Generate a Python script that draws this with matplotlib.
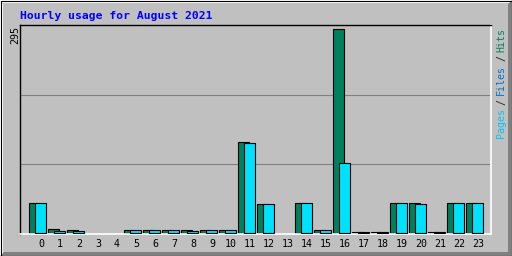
import matplotlib
matplotlib.use("Agg")
import matplotlib.pyplot as plt
from matplotlib.patches import Rectangle, Polygon
import numpy as np

hours = list(range(24))
hour_labels = [str(h) for h in hours]
hits = [43, 5, 3, 0, 0, 3, 3, 3, 3, 3, 3, 131, 41, 0, 43, 3, 295, 1, 1, 43, 43, 1, 43, 43]
pages = [43, 2, 2, 0, 0, 3, 3, 3, 2, 3, 3, 130, 41, 0, 43, 3, 101, 1, 1, 43, 41, 1, 43, 43]
title = "Hourly usage for August 2021"
ymax_label = "295"

W, H = 512, 256
BG = "#c0c0c0"
HIT_C = "#00805c"
PAGE_C = "#00e0ff"
FILE_C = "#0070d0"

fig = plt.figure(figsize=(W / 100, H / 100), dpi=100, facecolor=BG)
bg = fig.add_axes([0, 0, 1, 1])
bg.set_xlim(0, W)
bg.set_ylim(H, 0)
bg.axis("off")
bg.set_zorder(0)

# outer bevel
bg.add_patch(Polygon([[0, H], [W, H], [W, 0], [W - 4, 4], [W - 4, H - 4], [4, H - 4]],
                     closed=True, facecolor="#808080", edgecolor="none"))
bg.add_patch(Polygon([[0, 0], [W, 0], [W - 3, 3], [3, 3], [3, H - 3], [0, H]],
                     closed=True, facecolor="white", edgecolor="none"))
bg.add_patch(Rectangle((0.5, 0.5), W - 1, H - 1, fill=False, edgecolor="black", lw=0.8))

mono = "DejaVu Sans Mono"
bg.text(20, 19, title, color="#0000ff", fontsize=8.2, fontweight="bold",
        family=mono, ha="left", va="baseline")
bg.text(18.3, 26, ymax_label, color="black", fontsize=7.2, family=mono,
        rotation=90, rotation_mode="anchor", ha="right", va="baseline")

# vertical legend (segment centres along y, in pixels)
segs = [("Pages", "#00c8f4", 122.5), ("/", "#202020", 102), ("Files", FILE_C, 80),
        ("/", "#202020", 58), ("Hits", HIT_C, 40.5)]
for s, c, yc in segs:
    bg.text(504, yc, s, color=c, fontsize=7.2, family=mono, rotation=90,
            rotation_mode="anchor", ha="center", va="baseline")

# main plot
ax = fig.add_axes([20 / W, (H - 234) / H, (491 - 20) / W, (234 - 25) / H])
ax.set_zorder(1)
ax.set_facecolor(BG)
ax.set_xlim(-15 / 19, (491 - 35) / 19)
ax.set_ylim(-1.5 * 295 / 203.5, (232.5 - 25) * 295 / 203.5)
for f in (1 / 3, 2 / 3):
    ax.plot([0, 1], [f, f], transform=ax.transAxes, color="#808080", lw=0.8, zorder=1)

x = np.array(hours, dtype=float)
h = np.array(hits, dtype=float)
p = np.array(pages, dtype=float)
bw = 10.8 / 19
mh = h > 0
mp = p > 0
ax.bar(x[mh] - 0.3, h[mh], width=bw, align="edge", color=HIT_C, edgecolor="black", lw=0.8, zorder=2)
ax.bar(x[mp] + 6 / 19 - 0.3, p[mp], width=bw, align="edge", color=PAGE_C, edgecolor="black", lw=0.8, zorder=3)

for sp in ("top", "left"):
    ax.spines[sp].set_color("black")
    ax.spines[sp].set_linewidth(1.0)
for sp in ("bottom", "right"):
    ax.spines[sp].set_color("white")
    ax.spines[sp].set_linewidth(1.2)
ax.set_yticks([])
ax.set_xticks(x + 0.316)
ax.set_xticklabels(hour_labels, fontsize=7.2, family=mono)
ax.tick_params(axis="x", length=0, pad=3.5)

fig.savefig("out.png", dpi=100, facecolor=BG)
